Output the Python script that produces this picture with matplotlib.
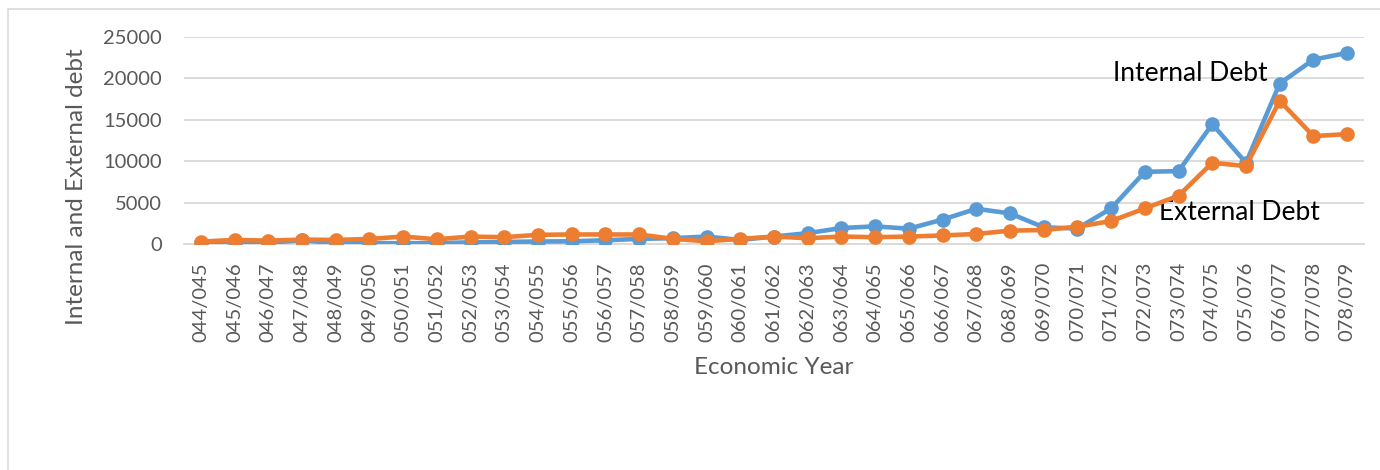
import matplotlib
matplotlib.use("Agg")
import matplotlib.pyplot as plt
import numpy as np

years = ["044/045", "045/046", "046/047", "047/048", "048/049", "049/050", "050/051",
         "051/052", "052/053", "053/054", "054/055", "055/056", "056/057", "057/058",
         "058/059", "059/060", "060/061", "061/062", "062/063", "063/064", "064/065",
         "065/066", "066/067", "067/068", "068/069", "069/070", "070/071", "071/072",
         "072/073", "073/074", "074/075", "075/076", "076/077", "077/078", "078/079"]

internal_debt = [100, 100, 150, 450, 100, 100, 100, 100, 200, 250, 300, 330, 450, 620,
                 700, 900, 490, 900, 1310, 1930, 2130, 1850, 2950, 4250, 3700, 2010,
                 1870, 4300, 8720, 8800, 14470, 9810, 19380, 22270, 23080]
external_debt = [290, 490, 410, 530, 490, 610, 900, 570, 900, 820, 1110, 1150, 1150, 1150,
                 620, 330, 620, 900, 700, 900, 820, 900, 1030, 1210, 1610, 1690,
                 2090, 2770, 4300, 5830, 9810, 9410, 17290, 13030, 13270]

plt.rcParams['font.family'] = ['Lato', 'DejaVu Sans']
grey = "#595959"

fig = plt.figure(figsize=(13.8, 4.7), dpi=100)
ax = fig.add_axes([184 / 1380, 1 - 244 / 470, (1364 - 184) / 1380, (244 - 37) / 470])

# outer chart border
fig.patches.append(plt.Rectangle((8 / 1380, -0.1), 1.2, 1 - 9 / 470 + 0.1,
                                 transform=fig.transFigure, fill=False,
                                 edgecolor="#d9d9d9", linewidth=1.2))

x = np.arange(len(years))
ax.plot(x, internal_debt, color="#5b9bd5", linewidth=3.3, marker="o", markersize=9.5, zorder=3)
ax.plot(x, external_debt, color="#ed7d31", linewidth=3.3, marker="o", markersize=9.5, zorder=4)

ax.set_xlim(-0.5, len(years) - 0.5)
ax.set_ylim(0, 25000)
ax.set_yticks(range(0, 25001, 5000))
ax.yaxis.grid(True, color="#d9d9d9", linewidth=1.3)
ax.set_axisbelow(True)
for s in ["top", "right", "left"]:
    ax.spines[s].set_visible(False)
ax.spines["bottom"].set_color("#d9d9d9")
ax.spines["bottom"].set_linewidth(1.3)
ax.spines["bottom"].set_zorder(1)

ax.set_xticks(x)
ax.set_xticklabels(years, rotation=90, fontsize=14.5, color=grey)
ax.tick_params(axis="x", length=0, pad=13)
ax.tick_params(axis="y", length=0, pad=16, labelsize=14.5, labelcolor=grey)

ax.text(29.35, 20600, "Internal Debt", fontsize=19, ha="center", va="center", color="black")
ax.text(30.8, 3850, "External Debt", fontsize=19, ha="center", va="center", color="black")

fig.text(774 / 1380, 1 - 368 / 470, "Economic Year", fontsize=17.5, color=grey,
         ha="center", va="center")
fig.text(77 / 1380, 1 - 187 / 470, "Internal and External debt", fontsize=17.5, color=grey,
         ha="center", va="center", rotation=90)

fig.savefig("out.png", dpi=100)
